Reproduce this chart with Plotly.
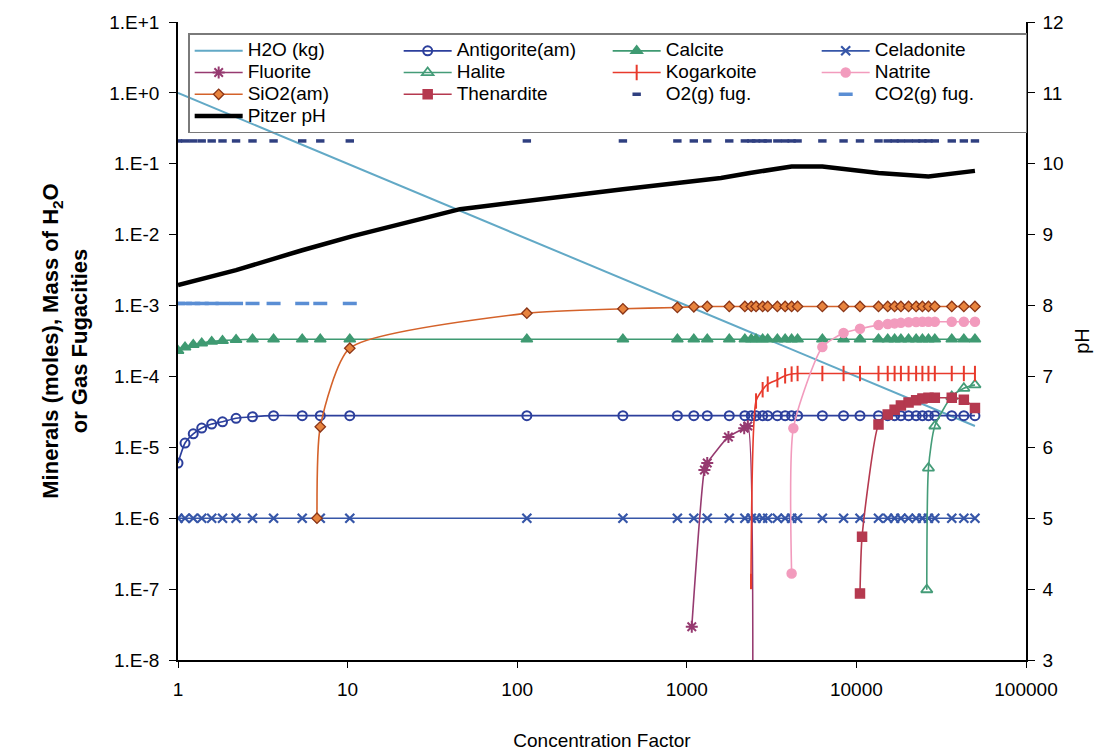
import plotly.graph_objects as go

# ---------------- data ----------------
CF = [1.0, 1.1, 1.23, 1.38, 1.58, 1.83, 2.2, 2.75, 3.66, 5.4, 6.9, 10.3,
      114, 420, 880, 1100, 1320, 1780, 2200, 2400, 2560, 2800, 3000, 3420,
      3800, 4150, 4500, 6300, 8400, 10500, 13500, 15300, 16800, 18300, 20300,
      22500, 24500, 26600, 29000, 36500, 43000, 50000]

O2_FUG = [0.21, 0.21, 0.21, 0.21, 0.21, 0.21, 0.21, 0.21, 0.21, 0.21, 0.21, 0.21,
          0.21, 0.21, 0.21, 0.21, 0.21, 0.21, 0.21, 0.21, 0.21, 0.21, 0.21, 0.21,
          0.21, 0.21, 0.21, 0.21, 0.21, 0.21, 0.21, 0.21, 0.21, 0.21, 0.21,
          0.21, 0.21, 0.21, 0.21, 0.21, 0.21, 0.21]

CO2_CF = [1.0, 1.1, 1.23, 1.38, 1.58, 1.83, 2.2, 2.75, 3.66, 5.4, 6.9, 10.3]
CO2_FUG = [1.07e-3, 1.07e-3, 1.07e-3, 1.07e-3, 1.07e-3, 1.07e-3, 1.07e-3,
           1.07e-3, 1.07e-3, 1.07e-3, 1.07e-3, 1.07e-3]

CELADONITE = [1e-6, 1e-6, 1e-6, 1e-6, 1e-6, 1e-6, 1e-6, 1e-6, 1e-6, 1e-6, 1e-6, 1e-6,
              1e-6, 1e-6, 1e-6, 1e-6, 1e-6, 1e-6, 1e-6, 1e-6, 1e-6, 1e-6, 1e-6, 1e-6,
              1e-6, 1e-6, 1e-6, 1e-6, 1e-6, 1e-6, 1e-6, 1e-6, 1e-6, 1e-6, 1e-6,
              1e-6, 1e-6, 1e-6, 1e-6, 1e-6, 1e-6, 1e-6]

ANTIGORITE = [6.0e-6, 1.15e-5, 1.55e-5, 1.87e-5, 2.13e-5, 2.29e-5, 2.57e-5, 2.7e-5,
              2.8e-5, 2.8e-5, 2.8e-5, 2.8e-5, 2.8e-5, 2.8e-5, 2.8e-5, 2.8e-5, 2.8e-5,
              2.8e-5, 2.8e-5, 2.8e-5, 2.8e-5, 2.8e-5, 2.8e-5, 2.8e-5, 2.8e-5, 2.8e-5,
              2.8e-5, 2.8e-5, 2.8e-5, 2.8e-5, 2.8e-5, 2.8e-5, 2.8e-5, 2.8e-5, 2.8e-5,
              2.8e-5, 2.8e-5, 2.8e-5, 2.8e-5, 2.8e-5, 2.8e-5, 2.8e-5]

CALCITE = [2.3e-4, 2.58e-4, 2.8e-4, 2.95e-4, 3.1e-4, 3.2e-4, 3.3e-4, 3.35e-4,
           3.35e-4, 3.35e-4, 3.35e-4, 3.35e-4, 3.35e-4, 3.35e-4, 3.35e-4, 3.35e-4,
           3.35e-4, 3.35e-4, 3.35e-4, 3.35e-4, 3.35e-4, 3.35e-4, 3.35e-4, 3.35e-4,
           3.35e-4, 3.35e-4, 3.35e-4, 3.35e-4, 3.35e-4, 3.35e-4, 3.35e-4, 3.35e-4,
           3.35e-4, 3.35e-4, 3.35e-4, 3.35e-4, 3.35e-4, 3.35e-4, 3.35e-4, 3.35e-4,
           3.35e-4, 3.35e-4]

H2O_CF = [1, 10, 100, 1000, 10000, 50000]
H2O_KG = [1.0, 0.1, 0.01, 1e-3, 1e-4, 2e-5]

SIO2_CF = [6.6, 6.9, 10.3, 114, 420, 880, 1100, 1320, 1780, 2200, 2400, 2560, 2800,
           3000, 3420, 3800, 4150, 4500, 6300, 8400, 10500, 13500, 15300, 16800,
           18300, 20300, 22500, 24500, 26600, 29000, 36500, 43000, 50000]
SIO2 = [1.0e-6, 1.95e-5, 2.5e-4, 7.8e-4, 9.0e-4, 9.4e-4, 9.6e-4, 9.7e-4, 9.7e-4,
        9.7e-4, 9.7e-4, 9.7e-4, 9.7e-4, 9.7e-4, 9.7e-4, 9.7e-4, 9.7e-4, 9.7e-4,
        9.7e-4, 9.7e-4, 9.7e-4, 9.7e-4, 9.7e-4, 9.7e-4, 9.7e-4, 9.7e-4, 9.7e-4,
        9.7e-4, 9.7e-4, 9.7e-4, 9.7e-4, 9.7e-4, 9.7e-4]

FLUORITE_CF = [1070, 1270, 1320, 1760, 2180, 2290, 2440]
FLUORITE = [2.95e-8, 4.8e-6, 6.0e-6, 1.4e-5, 1.86e-5, 2.0e-5, 1e-10]

KOGARKOITE_CF = [2390, 2560, 2800, 3000, 3420, 3800, 4150, 4500, 6300, 8400, 10500,
                 13500, 15300, 16800, 18300, 20300, 22500, 24500, 26600, 29000,
                 36500, 43000, 50000]
KOGARKOITE = [1.28e-7, 4.5e-5, 6.5e-5, 7.8e-5, 9.0e-5, 1.02e-4, 1.08e-4, 1.1e-4,
              1.1e-4, 1.1e-4, 1.1e-4, 1.1e-4, 1.1e-4, 1.1e-4, 1.1e-4, 1.1e-4,
              1.1e-4, 1.1e-4, 1.1e-4, 1.1e-4, 1.1e-4, 1.1e-4, 1.1e-4]

NATRITE_CF = [4150, 4250, 6300, 8400, 10500, 13500, 15300, 16800, 18300, 20300,
              22500, 24500, 26600, 29000, 36500, 43000, 50000]
NATRITE = [1.66e-7, 1.86e-5, 2.6e-4, 4.1e-4, 4.7e-4, 5.3e-4, 5.5e-4, 5.6e-4, 5.7e-4,
           5.8e-4, 5.85e-4, 5.9e-4, 5.9e-4, 5.9e-4, 5.9e-4, 5.9e-4, 5.9e-4]

THENARDITE_CF = [10500, 10800, 13500, 15300, 16800, 18300, 20300, 22500, 24500,
                 26600, 29000, 36500, 43000, 50000]
THENARDITE = [8.7e-8, 5.5e-7, 2.1e-5, 2.9e-5, 3.4e-5, 3.9e-5, 4.3e-5, 4.6e-5, 4.9e-5,
              5.0e-5, 5.0e-5, 5.0e-5, 4.7e-5, 3.6e-5]

HALITE_CF = [26000, 26600, 29000, 36500, 43000, 50000]
HALITE = [9.8e-8, 5.1e-6, 2.0e-5, 5.2e-5, 6.8e-5, 7.6e-5]

PH_CF = [1, 2.2, 5.4, 10.7, 46, 114, 420, 880, 1210, 1590, 2350, 4150, 6300,
         13500, 26600, 50000]
PITZER_PH = [8.29, 8.50, 8.78, 8.98, 9.36, 9.48, 9.64, 9.73, 9.76, 9.80, 9.87,
             9.96, 9.96, 9.87, 9.82, 9.90]

X_TICKS = [1, 10, 100, 1000, 10000, 100000]
X_TICK_TEXT = ["1", "10", "100", "1000", "10000", "100000"]
Y_TICKS = [1e-8, 1e-7, 1e-6, 1e-5, 1e-4, 1e-3, 1e-2, 1e-1, 1e0, 1e1]
Y_TICK_TEXT = ["1.E-8", "1.E-7", "1.E-6", "1.E-5", "1.E-4", "1.E-3", "1.E-2",
               "1.E-1", "1.E+0", "1.E+1"]
PH_TICKS = [3, 4, 5, 6, 7, 8, 9, 10, 11, 12]

FONT = "Liberation Sans, Arial, sans-serif"
LEG_TXT = '<span style="font-size:19px">{}</span>'

fig = go.Figure()

def mineral(name, x, y, color, symbol, size, lw=1.6, fill=None, mlw=1.5, mlc=None):
    fig.add_trace(go.Scatter(
        x=x, y=y, name=LEG_TXT.format(name), mode="lines+markers",
        line=dict(color=color, width=lw, shape="spline", smoothing=0.6),
        marker=dict(symbol=symbol, size=size, color=fill if fill else color,
                    line=dict(color=mlc if mlc else color, width=mlw)),
        connectgaps=True))

# Row 1
fig.add_trace(go.Scatter(x=H2O_CF, y=H2O_KG, name=LEG_TXT.format("H2O (kg)"),
                         mode="lines", line=dict(color="#62a9c6", width=2)))
mineral("Antigorite(am)", CF, ANTIGORITE, "#2c3f9c", "circle-open", 9, mlw=2)
mineral("Calcite", CF, CALCITE, "#3f9a72", "triangle-up", 10)
mineral("Celadonite", CF, CELADONITE, "#3656a8", "x-thin", 9, mlw=2.2)
# Row 2
mineral("Fluorite", FLUORITE_CF, FLUORITE, "#963a70", "asterisk", 10, mlw=2)
mineral("Halite", HALITE_CF, HALITE, "#449c78", "triangle-up-open", 10, mlw=1.8)
mineral("Kogarkoite", KOGARKOITE_CF, KOGARKOITE, "#e83a2c", "line-ns", 11, mlw=2)
mineral("Natrite", NATRITE_CF, NATRITE, "#f29bbd", "circle", 9)
# Row 3
mineral("SiO2(am)", SIO2_CF, SIO2, "#d4622a", "diamond", 8, fill="#e8843e",
        mlc="#8a3517", mlw=1.3)
mineral("Thenardite", THENARDITE_CF, THENARDITE, "#b5394f", "square", 9)
fig.add_trace(go.Scatter(x=CF, y=O2_FUG, name=LEG_TXT.format("O2(g) fug."),
                         mode="markers",
                         marker=dict(symbol="line-ew", size=6,
                                     line=dict(color="#2f3f80", width=3.5))))
fig.add_trace(go.Scatter(x=CO2_CF, y=CO2_FUG, name=LEG_TXT.format("CO2(g) fug."),
                         mode="markers",
                         marker=dict(symbol="line-ew", size=10,
                                     line=dict(color="#5a8ed4", width=3.5))))
# Row 4
fig.add_trace(go.Scatter(x=PH_CF, y=PITZER_PH, name=LEG_TXT.format("Pitzer pH"),
                         mode="lines", line=dict(color="black", width=4.5),
                         yaxis="y2"))

# The page body has an 8px margin, so the figure is 8px smaller than the window
fig.update_layout(
    width=1110, height=748,
    margin=dict(l=170, r=92, t=14, b=96, autoexpand=False),
    paper_bgcolor="white", plot_bgcolor="white",
    font=dict(family=FONT, size=19, color="black"),
    showlegend=True,
    legend=dict(orientation="h", x=0.012, y=0.982, xanchor="left", yanchor="top",
                bgcolor="rgba(255,255,255,0)", bordercolor="#7a7a7a", borderwidth=1.5,
                font=dict(family=FONT, size=14.4), entrywidth=146,
                entrywidthmode="pixels", itemwidth=48, tracegroupgap=0),
    xaxis=dict(type="log", range=[0, 5], tickvals=X_TICKS, ticktext=X_TICK_TEXT,
               ticks="outside", ticklen=6, tickcolor="black", automargin=False,
               ticklabelstandoff=5,
               showline=True, linecolor="black", linewidth=1.5,
               showgrid=False, zeroline=False,
               tickfont=dict(size=19),
               title=dict(text="Concentration Factor", font=dict(size=19),
                          standoff=35)),
    yaxis=dict(type="log", range=[-8, 1], tickvals=Y_TICKS, ticktext=Y_TICK_TEXT,
               ticks="outside", ticklen=7, tickcolor="black", automargin=False,
               ticklabelstandoff=6,
               showline=True, linecolor="black", linewidth=1.5,
               showgrid=False, zeroline=False, tickfont=dict(size=19),
               title=dict(text="<b>Minerals (moles), Mass of H<sub>2</sub>O<br>or Gas Fugacities</b>",
                          font=dict(size=22), standoff=16)),
    yaxis2=dict(overlaying="y", side="right", range=[3, 12], tickvals=PH_TICKS,
                ticks="outside", ticklen=7, tickcolor="black", automargin=False,
                ticklabelstandoff=4,
                showline=True, linecolor="black", linewidth=1.5,
                showgrid=False, zeroline=False, tickfont=dict(size=19),
                title=dict(text="pH", font=dict(size=20), standoff=12)),
)

fig.write_html("out.html")
